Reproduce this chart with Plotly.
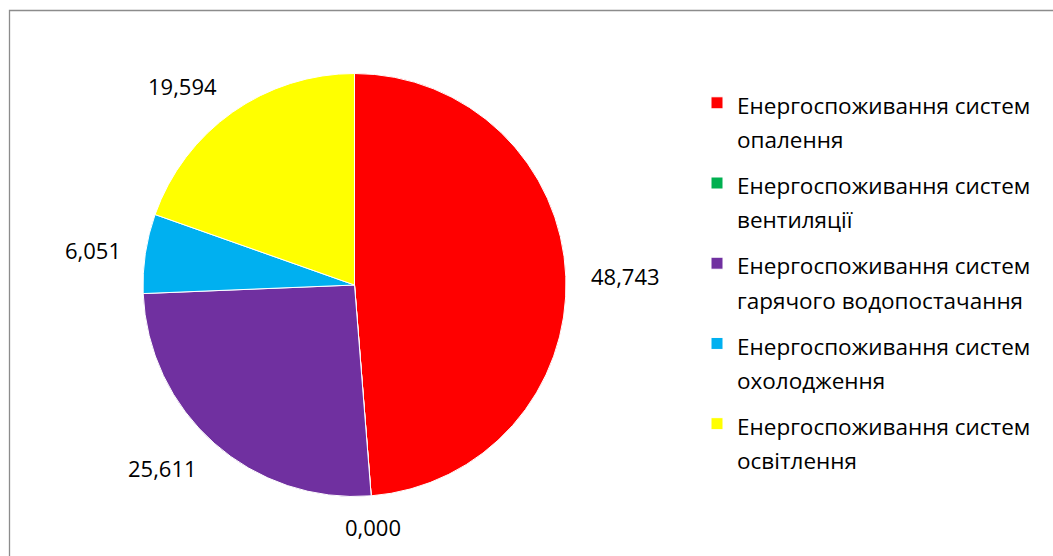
import math
import plotly.graph_objects as go

# ---- data ----
labels = [
    "Енергоспоживання систем<br>опалення",
    "Енергоспоживання систем<br>вентиляції",
    "Енергоспоживання систем<br>гарячого водопостачання",
    "Енергоспоживання систем<br>охолодження",
    "Енергоспоживання систем<br>освітлення",
]
values = [48.743, 0.000, 25.611, 6.051, 19.594]
colors = ["#FF0000", "#00B050", "#7030A0", "#00B0F0", "#FFFF00"]

# ---- layout geometry ----
W, H = 1053, 556
CX, CY, R = 354.5, 285.0, 211.5
GAP = 23
YSHIFT = 9
FONT = "Open Sans"
LEG_LINE = 6.6     # legend base font size (sets the line step)
LEG_TEXT = 22.5    # visible legend glyph size


def legend_name(s):
    first, second = s.split("<br>")
    sp = " "
    parts = [sp, f"<span style='font-size:{LEG_TEXT}px'>{first}</span>", sp, sp, sp,
             f"<span style='font-size:{LEG_TEXT}px'>{second}</span>", sp, sp, sp]
    return "<br>".join(parts)


fig = go.Figure()
fig.add_trace(go.Pie(
    labels=[legend_name(l) for l in labels],
    values=values,
    marker=dict(colors=colors, line=dict(color="white", width=1)),
    sort=False,
    direction="clockwise",
    rotation=0,
    textinfo="none",
    hoverinfo="value",
    domain=dict(x=[(CX - R) / W, (CX + R) / W], y=[1 - (CY + R) / H, 1 - (CY - R) / H]),
))

# value labels placed around the pie from the cumulative angles
total = sum(values)
cum = 0.0
annotations = []
for v in values:
    mid = (cum + v / 2) / total * 2 * math.pi
    cum += v
    s, c = math.sin(mid), math.cos(mid)
    px = CX + (R + GAP) * s
    py = CY - (R + GAP) * c
    xa = "left" if s > 0.3 else ("right" if s < -0.3 else "center")
    ya = "bottom" if c > 0.3 else ("top" if c < -0.3 else "middle")
    ys = -YSHIFT if ya == "bottom" else (YSHIFT if ya == "top" else 0)
    annotations.append(dict(
        x=px / W, y=1 - py / H, xref="paper", yref="paper",
        text=f"{v:.3f}".replace(".", ","), showarrow=False,
        xanchor=xa, yanchor=ya, yshift=ys,
        font=dict(family=FONT, size=22, color="black"),
    ))

fig.update_layout(
    width=W, height=H,
    margin=dict(l=0, r=0, t=0, b=0),
    paper_bgcolor="white",
    plot_bgcolor="white",
    showlegend=True,
    legend=dict(
        x=697 / W, y=1 - 92 / H, xanchor="left", yanchor="top",
        font=dict(family=FONT, size=LEG_LINE, color="black"),
        valign="top",
        bgcolor="rgba(0,0,0,0)",
    ),
    annotations=annotations,
    shapes=[dict(
        type="rect", xref="paper", yref="paper",
        x0=9.5 / W, x1=1.02, y0=-0.02, y1=1 - 10.5 / H,
        line=dict(color="#8C8C8C", width=1.3), fillcolor="rgba(0,0,0,0)", layer="below",
    )],
)

fig.write_html("out.html")
